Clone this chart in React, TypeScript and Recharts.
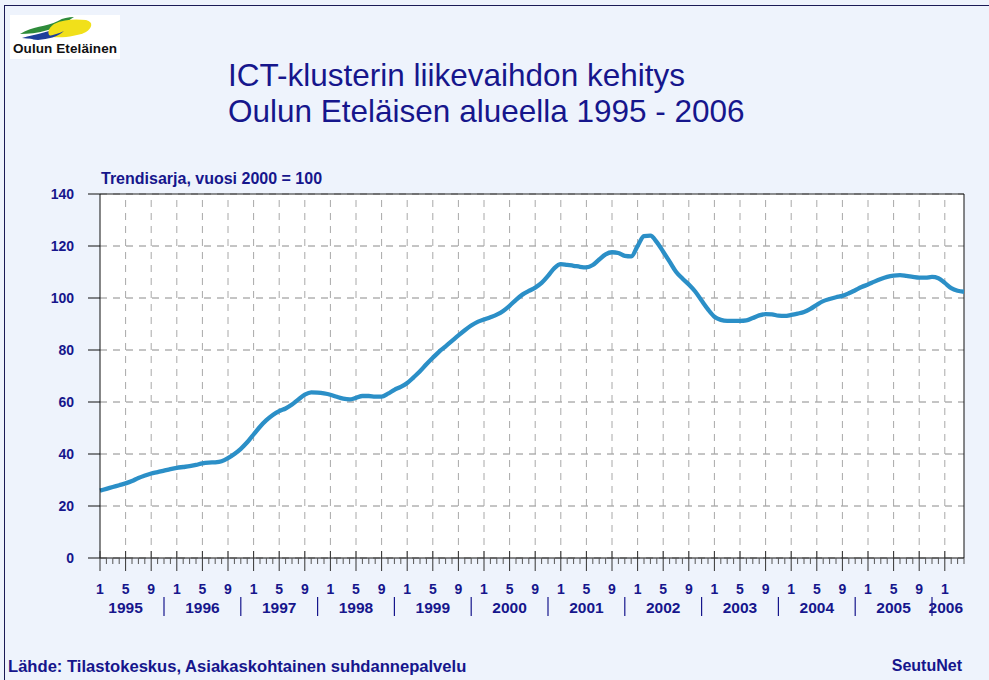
import React from 'react';
import { LineChart, Line, XAxis, YAxis, CartesianGrid, ReferenceLine } from 'recharts';

// Trendisarja, vuosi 2000 = 100 — kuukausittain 1/1995 ... 4/2006
const years = [1995, 1996, 1997, 1998, 1999, 2000, 2001, 2002, 2003, 2004, 2005, 2006];
const monthLabels = ['1', '5', '9'];
const yTicks = [0, 20, 40, 60, 80, 100, 120, 140];
const trend = [
  25.9, 26.6, 27.3, 28.0, 28.7, 29.6, 30.8, 31.7, 32.5, 33.0, 33.6, 34.2,
  34.7, 35.0, 35.3, 35.8, 36.4, 36.7, 36.8, 37.2, 38.4, 40.0, 42.0, 44.5,
  47.5, 50.5, 53.0, 55.0, 56.5, 57.5, 59.0, 61.0, 62.8, 63.7, 63.6, 63.3,
  62.8, 62.0, 61.3, 61.0, 61.6, 62.3, 62.3, 62.1, 62.1, 63.2, 64.7, 65.8,
  67.3, 69.5, 71.8, 74.5, 77.0, 79.4, 81.4, 83.5, 85.6, 87.6, 89.4, 90.8,
  91.7, 92.6, 93.6, 95.0, 97.0, 99.3, 101.3, 102.7, 104.0, 105.8, 108.5, 111.5,
  113.0, 112.7, 112.4, 112.0, 111.8, 112.7, 114.8, 116.8, 117.6, 117.3, 116.2, 116.0,
  120.0, 123.8, 124.0, 121.5, 117.8, 114.0, 110.1, 107.5, 105.2, 102.5, 99.0, 95.6,
  92.8, 91.6, 91.2, 91.2, 91.2, 91.4, 92.3, 93.3, 93.8, 93.7, 93.2, 93.1,
  93.5, 94.0, 94.6, 95.8, 97.4, 98.8, 99.6, 100.3, 100.8, 101.8, 103.0, 104.2,
  105.2, 106.3, 107.3, 108.1, 108.6, 108.8, 108.5, 108.1, 107.8, 107.8, 108.1, 107.6,
  105.8, 103.8, 102.8, 102.4,
];

const data = trend.map((v, i) => ({ i, v }));
const lastIndex = trend.length - 1;
const allMonths = data.map((d) => d.i);
const gridMonths = allMonths.filter((i) => i > 0 && i % 4 === 0);

const navy = '#16168c';
const font = '"Liberation Sans", Arial, Helvetica, sans-serif';

function MonthTick(props: any) {
  const { x, y, payload } = props;
  const i = payload.value as number;
  const m = i % 12;
  const yr = Math.floor(i / 12);
  const major = m % 4 === 0;
  const isLastYear = yr === years.length - 1;
  const showYear = isLastYear ? m === 0 : m === 4;
  return (
    <g>
      <line
        x1={x}
        x2={x}
        y1={major ? y - 7 : y}
        y2={major ? y + 13 : y + 6}
        stroke={major ? '#333' : '#555'}
        strokeWidth={1}
      />
      {major && (
        <text x={x} y={y + 36} textAnchor="middle" fill={navy} fontSize={14} fontWeight="bold" fontFamily={font}>
          {monthLabels[m / 4]}
        </text>
      )}
      {showYear && (
        <text x={x + (isLastYear ? 1 : 0)} y={y + 55} textAnchor="middle" fill={navy} fontSize={15.5} fontWeight="bold" fontFamily={font}>
          {years[yr]}
        </text>
      )}
      {m === 10 && !isLastYear && (
        <line x1={x} x2={x} y1={y + 39} y2={y + 58} stroke={navy} strokeWidth={1.2} />
      )}
    </g>
  );
}

function Logo() {
  return (
    <svg width={110} height={44} style={{ position: 'absolute', left: 10, top: 15, background: '#fff' }}>
      <path d="M10 19 C22 11 36 12 48 6 C53 3 58 2 64 2 C58 6 50 12 38 15 C28 18 18 19 10 19 Z" fill="#2e8b3a" />
      <path d="M12 23 C26 19 42 17 54 9 C58 6 62 5 68 6 C60 12 50 19 38 22 C28 24 20 24 12 23 Z" fill="#1d3f9b" />
      <path d="M44 9 C54 4 66 4 76 5 C84 7 82 13 76 17 C68 21 54 23 42 22 C36 20 38 13 44 9 Z" fill="#f1e01a" />
      <path d="M20 23 C32 22 44 21 54 16 C48 22 38 24 28 25 C24 25 22 24 20 23 Z" fill="#1d3f9b" />
      <text x={3} y={38} fontSize={13.5} fontWeight="900" fontFamily={font} fill="#111" textLength={104}>
        Oulun Eteläinen
      </text>
    </svg>
  );
}

export default function App() {
  return (
    <div
      style={{
        position: 'absolute',
        left: 0,
        top: 0,
        width: 989,
        height: 680,
        background: '#eef3fc',
        overflow: 'hidden',
        fontFamily: font,
      }}
    >
      <div
        style={{
          position: 'absolute',
          left: 4,
          top: 5,
          width: 1000,
          height: 700,
          borderLeft: '1.5px solid #1a1a55',
          borderTop: '1.5px solid #1a1a55',
        }}
      />
      <Logo />
      <div style={{ position: 'absolute', left: 228, top: 57, color: navy, fontSize: 31.5, lineHeight: '36px' }}>
        ICT-klusterin liikevaihdon kehitys
        <br />
        Oulun Eteläisen alueella 1995 - 2006
      </div>
      <div style={{ position: 'absolute', left: 101, top: 170, color: navy, fontSize: 16, fontWeight: 'bold' }}>
        Trendisarja, vuosi 2000 = 100
      </div>
      <div style={{ position: 'absolute', left: 8, top: 657, color: navy, fontSize: 16.6, fontWeight: 'bold' }}>
        Lähde: Tilastokeskus, Asiakaskohtainen suhdannepalvelu
      </div>
      <div style={{ position: 'absolute', right: 27, top: 657, color: navy, fontSize: 16, fontWeight: 'bold' }}>
        SeutuNet
      </div>
      <div style={{ position: 'absolute', left: 0, top: 0 }}>
        <LineChart width={989} height={680} data={data} margin={{ top: 194, right: 25, left: 40, bottom: 52 }}>
          <CartesianGrid fill="#ffffff" vertical={false} stroke="#8a8a8a" strokeDasharray="7 6" />
          {gridMonths.map((i) => (
            <ReferenceLine key={i} x={i} stroke="#a8a8a8" strokeDasharray="7 6" />
          ))}
          <ReferenceLine y={140} stroke="#222" />
          <ReferenceLine x={lastIndex} stroke="#111" />
          <XAxis
            type="number"
            dataKey="i"
            domain={[0, lastIndex]}
            ticks={allMonths}
            interval={0}
            height={70}
            tickSize={0}
            tickMargin={0}
            tickLine={false}
            axisLine={{ stroke: '#111' }}
            tick={<MonthTick />}
          />
          <YAxis
            type="number"
            domain={[0, 140]}
            ticks={yTicks}
            width={60}
            tickSize={12}
            tickMargin={14}
            tickLine={{ stroke: '#111' }}
            axisLine={{ stroke: '#111' }}
            tick={{ fill: navy, fontSize: 14, fontWeight: 'bold', fontFamily: font }}
          />
          <Line
            type="monotone"
            dataKey="v"
            stroke="#2b8fc7"
            strokeWidth={4.3}
            dot={false}
            isAnimationActive={false}
          />
        </LineChart>
      </div>
    </div>
  );
}
